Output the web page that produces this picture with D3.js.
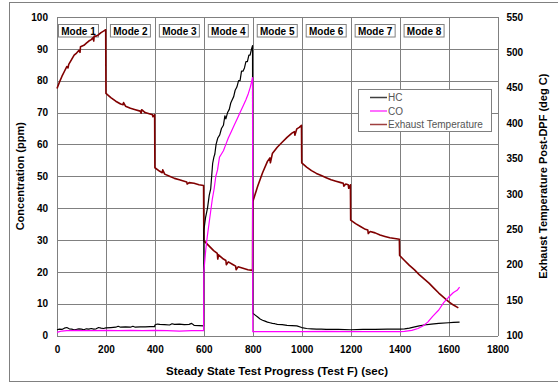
<!DOCTYPE html>
<html>
<head>
<meta charset="utf-8">
<script src="https://cdn.jsdelivr.net/npm/d3@7"></script>
<style>
  html, body { margin: 0; padding: 0; background: #fff; }
  svg { display: block; font-family: Arial, "Liberation Sans", sans-serif; }
</style>
</head>
<body>
<svg id="chart" width="558" height="383"></svg>
<script>
// Steady state test F: emissions and post-DPF exhaust temperature by mode

const xTicks = [0, 200, 400, 600, 800, 1000, 1200, 1400, 1600, 1800];
const concTicks = [0, 10, 20, 30, 40, 50, 60, 70, 80, 90, 100];
const tempTicks = [100, 150, 200, 250, 300, 350, 400, 450, 500, 550];
const modeLabels = ["Mode 1", "Mode 2", "Mode 3", "Mode 4", "Mode 5", "Mode 6", "Mode 7", "Mode 8"];
const modeStarts = [0, 200, 400, 600, 800, 1000, 1200, 1400];

// HC concentration (ppm): [time s, value]
const hcData = [
  [0,1.8],[10,2.0],[20,1.9],[30,2.3],[40,2.5],[50,2.1],[60,2.0],[70,1.8],[80,1.9],[90,2.1],
  [100,2.0],[110,1.8],[120,2.1],[130,2.0],[140,2.2],[150,2.0],[160,2.1],[170,2.5],[180,2.3],[190,2.2],
  [200,2.4],[220,2.5],[240,2.6],[250,2.9],[260,2.6],[280,2.7],[300,2.6],[310,2.9],[320,2.6],[340,2.7],
  [360,2.7],[380,2.8],[399,2.8],[400,3.3],[410,3.6],[420,3.5],[440,3.4],[460,3.3],[470,3.7],[480,3.5],
  [500,3.6],[520,3.4],[540,3.5],[550,3.8],[560,3.2],[580,3.1],[599,3.0],
  [600,33],[607,37],[615,40],[622,44],[628,46],[632,50],[636,54],[641,56],[645,57],[650,60],
  [657,62],[665,63],[672,65],[680,66],[686,69],[690,68],[697,70],[704,71],[710,73],[716,74],
  [722,75],[728,77],[735,78],[742,80],[748,80],[754,83],[760,83],[766,84],[772,86],[778,86],
  [784,88],[789,88],[795,90],[799,91],
  [800,7.0],[810,6.4],[820,5.8],[830,5.2],[840,4.8],[850,4.5],[860,4.2],[870,4.0],[880,3.8],[890,3.7],
  [900,3.5],[920,3.4],[940,3.2],[960,3.1],[980,3.0],[1000,2.5],[1020,2.2],[1040,2.1],[1060,2.0],[1080,2.0],
  [1100,1.9],[1150,1.9],[1200,1.8],[1250,1.9],[1300,1.9],[1350,2.0],[1400,2.0],[1420,2.1],[1440,2.3],
  [1462,2.7],[1480,3.0],[1500,3.3],[1530,3.6],[1560,3.8],[1600,4.0],[1620,4.1],[1645,4.2]
];

// CO concentration (ppm): [time s, value]
const coData = [
  [0,1.0],[10,1.2],[20,1.4],[40,1.5],[60,1.5],[80,1.6],[100,1.5],[150,1.5],[200,1.6],[250,1.5],
  [300,1.6],[350,1.5],[400,1.6],[450,1.5],[500,1.4],[550,1.5],[599,1.5],
  [600,20],[608,27],[614,31],[621,35],[628,39],[635,43],[642,46],[649,50],[656,52],[664,56],
  [672,57],[680,58],[690,60],[700,62],[712,64],[724,66],[736,68],[748,70],[760,72],[772,74],
  [782,76],[790,78],[799,81],
  [800,1.2],[900,1.2],[1000,1.2],[1100,1.3],[1200,1.2],[1300,1.2],[1400,1.2],[1420,1.3],[1450,1.6],
  [1475,2.2],[1495,3.0],[1515,4.2],[1535,6.0],[1560,8.0],[1580,10.3],[1600,12.0],[1620,13.5],[1635,14.2],[1645,15.2]
];

// Exhaust temperature post-DPF (deg C): [time s, value]
const tempData = [
  [0,449],[10,458],[20,466],[30,473],[40,480],[45,478],[48,483],[60,490],[70,496],[80,499],
  [90,503],[94,500],[96,508],[110,510],[120,513],[130,516],[140,518],[148,521],[150,516],[152,523],
  [160,523],[170,525],[180,528],[190,530],[199,532],
  [200,442],[220,436],[240,431],[260,427],[270,426],[272,429],[280,424],[300,421],[320,419],[340,417],
  [344,414],[346,419],[360,415],[380,413],[390,412],[392,409],[399,412],
  [400,337],[420,332],[430,330],[432,334],[440,328],[460,325],[480,322],[500,320],[520,318],[530,317],
  [532,314],[540,316],[560,315],[580,313],[599,312],
  [600,234],[620,227],[640,220],[655,216],[657,208],[660,214],[680,208],[690,206],[692,200],[700,204],
  [720,200],[730,198],[732,193],[740,197],[760,195],[780,193],[799,192],
  [800,289],[820,311],[840,330],[860,346],[870,351],[872,344],[880,357],[900,366],[920,373],[940,380],
  [960,386],[970,388],[972,383],[980,392],[990,394],[999,397],
  [1000,344],[1020,338],[1040,333],[1060,329],[1080,326],[1100,323],[1120,320],[1140,318],[1160,316],
  [1170,315],[1172,311],[1180,314],[1190,313],[1192,308],[1199,313],
  [1200,263],[1220,258],[1240,254],[1260,250],[1270,249],[1272,244],[1280,247],[1300,245],[1320,242],
  [1340,240],[1360,238],[1380,237],[1399,236],
  [1400,213],[1420,206],[1440,199],[1460,193],[1480,186],[1500,180],[1520,174],[1540,167],[1560,160],
  [1580,154],[1600,148],[1620,143],[1640,139]
];

const seriesNames = ["HC", "CO", "Exhaust Temperature"];
const seriesColors = ["#000000", "#ff00ff", "#800000"];

const svg = d3.select("#chart");
const W = 558, H = 383;
const plot = { left: 57, right: 497.5, top: 17, bottom: 335.5 };

const x = d3.scaleLinear().domain([0, 1800]).range([plot.left, plot.right]);
const yConc = d3.scaleLinear().domain([0, 100]).range([plot.bottom, plot.top]);
const yTemp = d3.scaleLinear().domain([100, 550]).range([plot.bottom, plot.top]);

svg.append("rect").attr("width", W).attr("height", H).attr("fill", "#fff");
// outer chart frame
svg.append("rect")
  .attr("x", 9.5).attr("y", 2.5).attr("width", W).attr("height", 379)
  .attr("fill", "none").attr("stroke", "#808080").attr("stroke-width", 1);

// gridlines
const grid = svg.append("g").attr("stroke", "#808080").attr("stroke-width", 1).attr("shape-rendering", "crispEdges");
grid.selectAll("line.h").data(concTicks).join("line")
  .attr("x1", plot.left).attr("x2", plot.right)
  .attr("y1", d => Math.round(yConc(d)) + 0.5).attr("y2", d => Math.round(yConc(d)) + 0.5);
grid.selectAll("line.v").data(xTicks).join("line")
  .attr("y1", plot.top).attr("y2", plot.bottom)
  .attr("x1", d => Math.round(x(d)) + 0.5).attr("x2", d => Math.round(x(d)) + 0.5);

// axes (labels only, gridlines carry the ticks)
const axisFont = g => g.attr("font-size", 10).attr("font-weight", "bold").attr("font-family", "Arial, 'Liberation Sans', sans-serif");
const gx = svg.append("g").attr("transform", `translate(0,${plot.bottom + 10})`)
  .call(d3.axisBottom(x).tickValues(xTicks).tickFormat(d3.format("d")).tickSize(0).tickPadding(0)).call(axisFont);
const gl = svg.append("g").attr("transform", `translate(${plot.left - 9},0)`)
  .call(d3.axisLeft(yConc).tickValues(concTicks).tickFormat(d3.format("d")).tickSize(0).tickPadding(0)).call(axisFont);
const gr = svg.append("g").attr("transform", `translate(${plot.right + 9},0)`)
  .call(d3.axisRight(yTemp).tickValues(tempTicks).tickFormat(d3.format("d")).tickSize(0).tickPadding(0)).call(axisFont);
[gx, gl, gr].forEach(g => { g.select(".domain").remove(); g.selectAll("text").attr("fill", "#000"); });

// mode labels, one box per 200 s interval
const mg = svg.append("g").selectAll("g").data(modeLabels).join("g")
  .attr("transform", (d, i) => `translate(${x(modeStarts[i] + 100) - (i === 0 ? 3 : 0)},31)`);
mg.append("rect").attr("x", -20).attr("y", -6.5).attr("width", 40).attr("height", 12.5)
  .attr("fill", "#fff").attr("stroke", "#808080").attr("stroke-width", 1);
mg.append("text").text(d => d).attr("text-anchor", "middle").attr("dy", "0.35em")
  .attr("font-size", 10).attr("font-weight", "bold").attr("fill", "#000");

// series lines
const lineConc = d3.line().x(d => x(d[0])).y(d => yConc(d[1]));
const lineTemp = d3.line().x(d => x(d[0])).y(d => yTemp(d[1]));

svg.append("path").datum(tempData).attr("d", lineTemp)
  .attr("fill", "none").attr("stroke", seriesColors[2]).attr("stroke-width", 1.6).attr("stroke-linejoin", "round");
svg.append("path").datum(hcData).attr("d", lineConc)
  .attr("fill", "none").attr("stroke", seriesColors[0]).attr("stroke-width", 1.2).attr("stroke-linejoin", "round");
svg.append("path").datum(coData).attr("d", lineConc)
  .attr("fill", "none").attr("stroke", seriesColors[1]).attr("stroke-width", 1.2).attr("stroke-linejoin", "round");

// legend
const lg = svg.append("g").attr("transform", "translate(358,89)");
lg.append("rect").attr("x", 0.5).attr("y", 0.5).attr("width", 133).attr("height", 42)
  .attr("fill", "#fff").attr("stroke", "#808080");
seriesNames.forEach((name, i) => {
  const yy = 8.5 + i * 13.5;
  lg.append("line").attr("x1", 12).attr("x2", 29).attr("y1", yy).attr("y2", yy)
    .attr("stroke", seriesColors[i]).attr("stroke-width", 1.5).attr("opacity", 0.75);
  lg.append("text").attr("x", 30).attr("y", yy).attr("dy", "0.35em")
    .attr("font-size", 10).attr("fill", "#555").text(name);
});

// axis titles
svg.append("text").attr("transform", `translate(24,${(plot.top + plot.bottom) / 2}) rotate(-90)`)
  .attr("text-anchor", "middle").attr("font-size", 11).attr("font-weight", "bold").text("Concentration (ppm)");
svg.append("text").attr("transform", `translate(547,${(plot.top + plot.bottom) / 2}) rotate(-90)`)
  .attr("text-anchor", "middle").attr("font-size", 11).attr("font-weight", "bold").text("Exhaust Temperature Post-DPF (deg C)");
svg.append("text").attr("x", 277).attr("y", 375)
  .attr("text-anchor", "middle").attr("font-size", 11.5).attr("font-weight", "bold").text("Steady State Test Progress (Test F) (sec)");
</script>
</body>
</html>
